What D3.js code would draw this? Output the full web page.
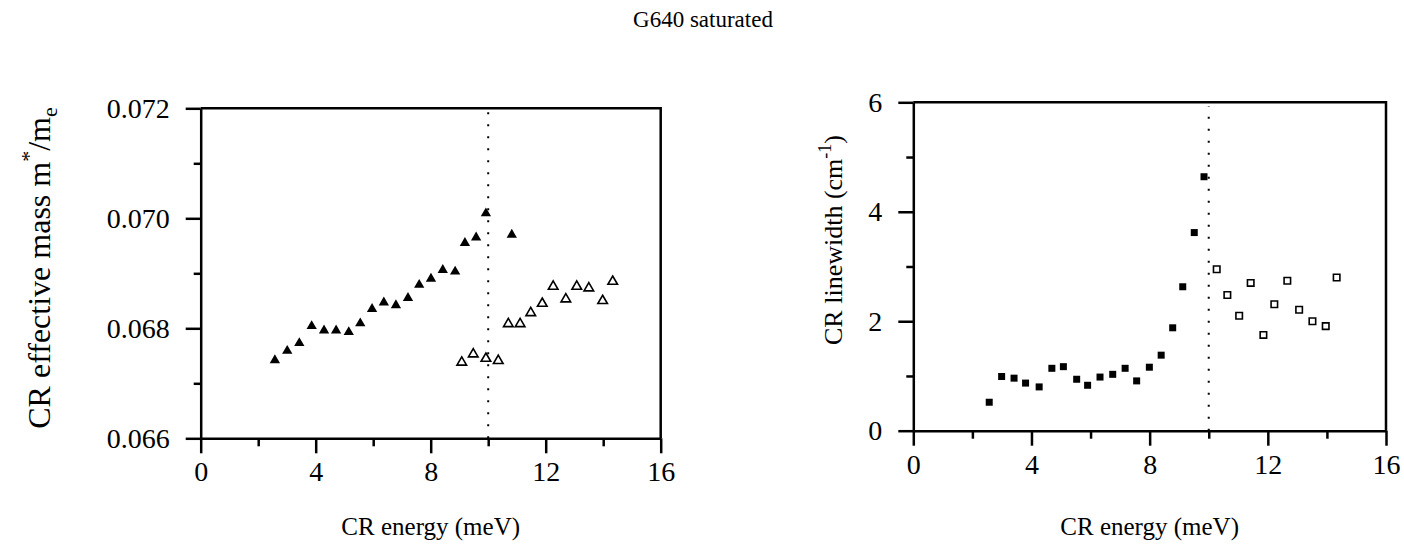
<!DOCTYPE html>
<html>
<head>
<meta charset="utf-8">
<script src="https://cdn.jsdelivr.net/npm/d3@7"></script>
<style>
  body { margin: 0; background: #fff; }
  svg text { font-family: "Liberation Serif", "Times New Roman", "DejaVu Serif", serif; }
</style>
</head>
<body>
<svg id="chart" width="1404" height="544"></svg>
<script>
// CR effective mass, filled triangles (below the gap) and open triangles (above)
const massFilledE = [2.58, 3.01, 3.43, 3.86, 4.29, 4.71, 5.15, 5.55, 5.96, 6.37, 6.79, 7.21, 7.60, 8.01, 8.42, 8.85, 9.19, 9.58, 9.92, 10.82];
const massFilledM = [0.06742, 0.06759, 0.06773, 0.06804, 0.06796, 0.06796, 0.06793, 0.06809, 0.06835, 0.06847, 0.06842, 0.06855, 0.06879, 0.06890, 0.06906, 0.06903, 0.06955, 0.06965, 0.07009, 0.06970];
const massOpenE = [9.08, 9.48, 9.92, 10.35, 10.70, 11.11, 11.48, 11.88, 12.26, 12.70, 13.08, 13.50, 13.98, 14.33];
const massOpenM = [0.06738, 0.06753, 0.06745, 0.06741, 0.06808, 0.06808, 0.06828, 0.06845, 0.06876, 0.06853, 0.06876, 0.06873, 0.06850, 0.06885];

// CR linewidth, filled and open squares
const widthFilledE = [2.57, 2.99, 3.41, 3.80, 4.26, 4.69, 5.08, 5.53, 5.90, 6.32, 6.75, 7.17, 7.56, 7.99, 8.39, 8.78, 9.12, 9.51, 9.84];
const widthFilledW = [0.52, 0.99, 0.96, 0.87, 0.80, 1.14, 1.17, 0.94, 0.83, 0.98, 1.03, 1.14, 0.91, 1.16, 1.38, 1.88, 2.63, 3.62, 4.64];
const widthOpenE = [10.27, 10.63, 11.03, 11.42, 11.85, 12.22, 12.66, 13.06, 13.51, 13.96, 14.33];
const widthOpenW = [2.95, 2.48, 2.10, 2.70, 1.75, 2.31, 2.74, 2.21, 2.00, 1.91, 2.80];

const energyTicks = [0, 4, 8, 12, 16];
const energyMinor = [2, 6, 10, 14];
const massTicks = [0.066, 0.068, 0.070, 0.072];
const massMinor = [0.067, 0.069, 0.071];
const widthTicks = [0, 2, 4, 6];
const widthMinor = [1, 3, 5];
const dividerEnergy = 10;

const serif = '"Liberation Serif", "Times New Roman", serif';
const svg = d3.select('#chart');

svg.append('text')
  .attr('x', 703)
  .attr('y', 27)
  .attr('text-anchor', 'middle')
  .attr('font-family', serif)
  .attr('font-size', 23)
  .text('G640 saturated');

function drawPanel(opts) {
  const x = d3.scaleLinear().domain([0, 16]).range(opts.xRange);
  const y = d3.scaleLinear().domain(opts.yDomain).range(opts.yRange);
  const g = svg.append('g');

  // frame (top and right sides)
  g.append('path')
    .attr('d', `M${x(0)},${y.range()[1]}H${x(16)}V${y.range()[0]}`)
    .attr('fill', 'none')
    .attr('stroke', '#000')
    .attr('stroke-width', 2.5);

  // minor ticks first, then major axes on top
  g.append('g')
    .attr('transform', `translate(0,${y.range()[0]})`)
    .call(d3.axisBottom(x).tickValues(energyMinor).tickSize(8).tickFormat(''))
    .call(a => a.select('.domain').remove());
  g.append('g')
    .attr('transform', `translate(${x(0)},0)`)
    .call(d3.axisLeft(y).tickValues(opts.yMinor).tickSize(7).tickFormat(''))
    .call(a => a.select('.domain').remove());

  const xAxis = g.append('g')
    .attr('transform', `translate(0,${y.range()[0]})`)
    .call(d3.axisBottom(x).tickValues(energyTicks).tickSize(15).tickSizeOuter(0).tickPadding(8).tickFormat(d3.format('d')));
  const yAxis = g.append('g')
    .attr('transform', `translate(${x(0)},0)`)
    .call(d3.axisLeft(y).tickValues(opts.yTicks).tickSize(15).tickSizeOuter(0).tickPadding(16).tickFormat(opts.yFormat));

  g.selectAll('.tick line, .domain').attr('stroke', '#000').attr('stroke-width', 2.5);
  [xAxis, yAxis].forEach(a => a
    .attr('font-family', serif)
    .attr('font-size', 28)
    .selectAll('text').attr('fill', '#000'));

  // dotted divider
  g.append('line')
    .attr('x1', x(dividerEnergy)).attr('x2', x(dividerEnergy))
    .attr('y1', y.range()[0]).attr('y2', y.range()[1] + 4)
    .attr('stroke', '#000')
    .attr('stroke-width', 2)
    .attr('stroke-dasharray', '2,10');

  const filled = d3.zip(opts.filledX, opts.filledY);
  const open = d3.zip(opts.openX, opts.openY);

  g.selectAll('path.filled')
    .data(filled)
    .join('path')
    .attr('class', 'filled')
    .attr('transform', d => `translate(${x(d[0])},${y(d[1])})`)
    .attr('d', d3.symbol().type(opts.symbol).size(opts.size))
    .attr('fill', '#000');

  g.selectAll('path.open')
    .data(open)
    .join('path')
    .attr('class', 'open')
    .attr('transform', d => `translate(${x(d[0])},${y(d[1])})`)
    .attr('d', d3.symbol().type(opts.symbol).size(opts.openSize))
    .attr('fill', '#fff')
    .attr('stroke', '#000')
    .attr('stroke-width', 1.6);

  // x label
  g.append('text')
    .attr('x', (opts.xRange[0] + opts.xRange[1]) / 2)
    .attr('y', 535)
    .attr('text-anchor', 'middle')
    .attr('font-family', serif)
    .attr('font-size', 25)
    .text('CR energy (meV)');

  return g;
}

const left = drawPanel({
  xRange: [200.7, 660.7],
  yDomain: [0.066, 0.072],
  yRange: [438.3, 108.3],
  yTicks: massTicks,
  yMinor: massMinor,
  yFormat: d3.format('.3f'),
  filledX: massFilledE, filledY: massFilledM,
  openX: massOpenE, openY: massOpenM,
  symbol: d3.symbolTriangle,
  size: 46,
  openSize: 40
});

const right = drawPanel({
  xRange: [913.3, 1386],
  yDomain: [0, 6],
  yRange: [430.7, 102.3],
  yTicks: widthTicks,
  yMinor: widthMinor,
  yFormat: d3.format('d'),
  filledX: widthFilledE, filledY: widthFilledW,
  openX: widthOpenE, openY: widthOpenW,
  symbol: d3.symbolSquare,
  size: 49,
  openSize: 42
});

// y labels
const leftLabel = left.append('text')
  .attr('transform', 'translate(50,268) rotate(-90)')
  .attr('text-anchor', 'middle')
  .attr('font-family', serif)
  .attr('font-size', 32);
leftLabel.append('tspan').text('CR effective mass m');
leftLabel.append('tspan').attr('dy', -14).attr('font-size', 22).text('*');
leftLabel.append('tspan').attr('dy', 14).text('/m');
leftLabel.append('tspan').attr('dy', 7).attr('font-size', 22).text('e');

const rightLabel = right.append('text')
  .attr('transform', 'translate(842,240) rotate(-90)')
  .attr('text-anchor', 'middle')
  .attr('font-family', serif)
  .attr('font-size', 26);
rightLabel.append('tspan').text('CR linewidth (cm');
rightLabel.append('tspan').attr('dy', -11).attr('font-size', 18).text('-1');
rightLabel.append('tspan').attr('dy', 11).text(')');
</script>
</body>
</html>
